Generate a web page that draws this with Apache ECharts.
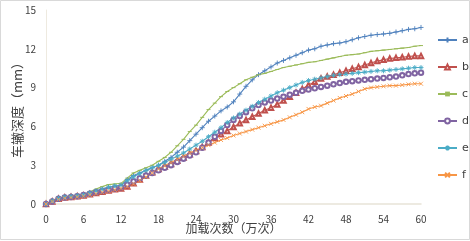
<!DOCTYPE html>
<html>
<head>
<meta charset="utf-8">
<script src="https://cdn.jsdelivr.net/npm/echarts@6/dist/echarts.min.js"></script>
<style>
	html, body { margin: 0; padding: 0; background: #fff; }
	#chart { width: 470px; height: 241px; }
</style>
</head>
<body>
<div id="chart"></div>
<script>
const loads = [ 0, 1, 2, 3, 4, 5, 6, 7, 8, 9, 10, 11, 12, 13, 14, 15, 16, 17, 18, 19, 20,
	21, 22, 23, 24, 25, 26, 27, 28, 29, 30, 31, 32, 33, 34, 35, 36, 37, 38, 39, 40,
	41, 42, 43, 44, 45, 46, 47, 48, 49, 50, 51, 52, 53, 54, 55, 56, 57, 58, 59, 60 ];

const seriesA = [ 0, 0.25, 0.45, 0.55, 0.6, 0.65, 0.7, 0.85, 1.0, 1.15, 1.3, 1.35, 1.45, 1.9, 2.2, 2.4, 2.6, 2.8, 3.0, 3.3,
	3.6, 4.0, 4.4, 4.9, 5.4, 5.9, 6.4, 6.8, 7.2, 7.5, 7.9, 8.5, 9.1, 9.6, 10.0, 10.3, 10.6, 10.9, 11.1, 11.3,
	11.5, 11.7, 11.9, 12.0, 12.2, 12.3, 12.4, 12.45, 12.55, 12.7, 12.85, 12.95, 13.05, 13.1, 13.15, 13.2, 13.3, 13.4, 13.5, 13.55, 13.65 ];
const seriesB = [ 0, 0.2, 0.4, 0.5, 0.55, 0.6, 0.65, 0.75, 0.85, 0.95, 1.05, 1.15, 1.2, 1.35, 1.6, 1.9, 2.2, 2.45, 2.7, 2.9,
	3.1, 3.35, 3.6, 3.85, 4.1, 4.4, 4.75, 5.1, 5.4, 5.65, 5.95, 6.25, 6.5, 6.75, 7.0, 7.25, 7.45, 7.7, 8.0, 8.3,
	8.6, 8.9, 9.2, 9.45, 9.7, 9.85, 10.0, 10.15, 10.3, 10.45, 10.6, 10.75, 10.9, 11.05, 11.15, 11.25, 11.3, 11.35, 11.4, 11.45, 11.45 ];
const seriesC = [ 0, 0.25, 0.45, 0.55, 0.6, 0.65, 0.75, 0.95, 1.15, 1.35, 1.5, 1.55, 1.6, 2.0, 2.4, 2.6, 2.8, 3.0, 3.3, 3.6,
	4.0, 4.5, 5.0, 5.6, 6.1, 6.7, 7.3, 7.8, 8.3, 8.7, 9.0, 9.3, 9.6, 9.8, 10.0, 10.1, 10.25, 10.4, 10.55, 10.65,
	10.75, 10.85, 10.95, 11.0, 11.1, 11.2, 11.3, 11.4, 11.5, 11.55, 11.6, 11.7, 11.8, 11.85, 11.9, 11.95, 12.0, 12.05, 12.1, 12.2, 12.25 ];
const seriesD = [ 0, 0.2, 0.4, 0.5, 0.55, 0.6, 0.7, 0.8, 0.9, 1.0, 1.1, 1.2, 1.3, 1.5, 1.75, 2.0, 2.2, 2.4, 2.6, 2.8,
	3.0, 3.25, 3.5, 3.75, 4.0, 4.35, 4.75, 5.2, 5.65, 6.1, 6.5, 6.8, 7.1, 7.4, 7.65, 7.85, 8.0, 8.15, 8.3, 8.45,
	8.6, 8.75, 8.85, 8.95, 9.05, 9.15, 9.25, 9.35, 9.45, 9.5, 9.55, 9.6, 9.65, 9.7, 9.75, 9.8, 9.85, 9.95, 10.05, 10.1, 10.15 ];
const seriesE = [ 0, 0.25, 0.45, 0.55, 0.6, 0.65, 0.7, 0.85, 1.0, 1.15, 1.3, 1.4, 1.45, 1.8, 2.1, 2.35, 2.6, 2.8, 3.0, 3.2,
	3.45, 3.7, 3.95, 4.25, 4.55, 4.85, 5.2, 5.55, 5.9, 6.3, 6.65, 6.95, 7.25, 7.55, 7.85, 8.1, 8.35, 8.6, 8.8, 9.0,
	9.2, 9.4, 9.55, 9.65, 9.75, 9.85, 9.95, 10.0, 10.05, 10.1, 10.15, 10.2, 10.25, 10.3, 10.3, 10.35, 10.4, 10.45, 10.5, 10.55, 10.55 ];
const seriesF = [ 0, 0.2, 0.35, 0.45, 0.5, 0.55, 0.6, 0.7, 0.8, 0.9, 1.0, 1.1, 1.2, 1.35, 1.55, 1.8, 2.1, 2.4, 2.7, 2.95,
	3.2, 3.45, 3.7, 3.95, 4.15, 4.35, 4.55, 4.75, 4.95, 5.1, 5.3, 5.45, 5.6, 5.75, 5.9, 6.05, 6.2, 6.35, 6.5, 6.7,
	6.9, 7.1, 7.35, 7.5, 7.6, 7.8, 8.0, 8.2, 8.35, 8.5, 8.7, 8.9, 9.0, 9.05, 9.1, 9.15, 9.15, 9.2, 9.25, 9.3, 9.3 ];

const seriesNames = [ "a", "b", "c", "d", "e", "f" ];
const seriesValues = [ seriesA, seriesB, seriesC, seriesD, seriesE, seriesF ];
const xTicks = [ 0, 6, 12, 18, 24, 30, 36, 42, 48, 54, 60 ];
const yTicks = [ 0, 3, 6, 9, 12, 15 ];

const colors = [ "#4F81BD", "#C0504D", "#9BBB59", "#8064A2", "#4BACC6", "#F79646" ];
// marker shapes; none of the paths may have a zero-height box
const symbols = [
	"path://M5,0L5,10M0,5L10,5",
	"emptyTriangle",
	"path://M0,4.5L10,4.5L10,5.5L0,5.5Z",
	"emptyCircle",
	"path://M5,0L5,10M0,5L10,5M1.5,1.5L8.5,8.5M8.5,1.5L1.5,8.5",
	"path://M0,0L10,10M10,0L0,10"
];
const symbolSizes = [ 5, 4.5, [ 4, 1 ], 4.5, 5, 4 ];
const markerStrokes = [ 0.9, 0.6, 0, 0.7, 0.9, 0.9 ];

const chart = echarts.init( document.getElementById( "chart" ) );

chart.setOption( {
	animation: false,
	textStyle: { fontFamily: "\"Noto Sans CJK SC\", \"DejaVu Sans\", sans-serif" },
	graphic: [ {
		type: "rect",
		shape: { x: 0.5, y: 0.5, width: 469, height: 239 },
		style: { fill: "none", stroke: "#d9d9d9", lineWidth: 1 },
		silent: true
	} ],
	grid: { left: 46, right: 49, top: 10, bottom: 37, outerBoundsMode: "none", containLabel: false },
	legend: {
		orient: "vertical",
		left: 437,
		top: 33,
		padding: 0,
		itemGap: 13,
		itemWidth: 19,
		itemHeight: 6,
		textStyle: { color: "#404040", fontSize: 11, lineHeight: 14, fontFamily: "\"DejaVu Sans\", sans-serif" },
		data: seriesNames
	},
	xAxis: {
		type: "value",
		min: xTicks[ 0 ],
		max: xTicks[ xTicks.length - 1 ],
		interval: 6,
		name: "加载次数（万次）",
		nameLocation: "middle",
		nameGap: 18,
		nameMoveOverlap: false,
		nameTextStyle: { color: "#404040", fontSize: 12 },
		axisLine: { lineStyle: { color: "#e8e4d8", width: 1.5 } },
		axisTick: { show: false },
		splitLine: { show: false },
		axisLabel: { color: "#404040", fontSize: 10, margin: 10 }
	},
	yAxis: {
		type: "value",
		min: yTicks[ 0 ],
		max: yTicks[ yTicks.length - 1 ],
		interval: 3,
		name: "车辙深度（mm）",
		nameLocation: "middle",
		nameGap: 22,
		nameMoveOverlap: false,
		nameTextStyle: { color: "#404040", fontSize: 13 },
		axisLine: { show: true, lineStyle: { color: "#eeeae0", width: 1 } },
		axisTick: { show: false },
		splitLine: { show: false },
		axisLabel: { color: "#404040", fontSize: 10, margin: 10 }
	},
	series: seriesNames.map( ( name, i ) => ( {
		name,
		type: "line",
		data: loads.map( ( x, j ) => [ x, seriesValues[ i ][ j ] ] ),
		symbol: symbols[ i ],
		symbolSize: symbolSizes[ i ],
		showAllSymbol: true,
		lineStyle: { color: colors[ i ], width: 1.1 },
		itemStyle: { color: colors[ i ], borderColor: colors[ i ], borderWidth: markerStrokes[ i ] }
	} ) )
} );
</script>
</body>
</html>
